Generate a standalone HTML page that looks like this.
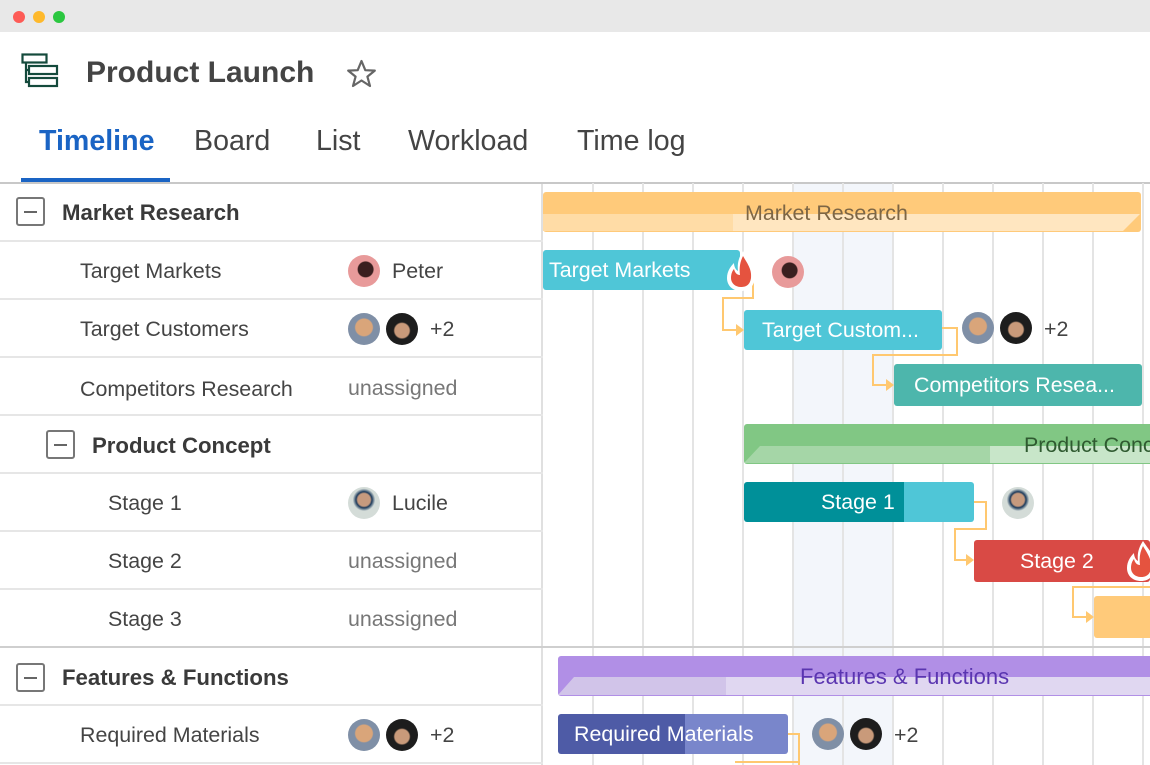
<!DOCTYPE html>
<html><head><meta charset="utf-8"><style>
*{margin:0;padding:0;box-sizing:border-box}
body{width:1150px;height:765px;overflow:hidden;background:#fff;font-family:"Liberation Sans",sans-serif;position:relative}
.a{position:absolute}
.tb{left:0;top:0;width:1150px;height:32px;background:#e8e8e8}
.dot{width:12px;height:12px;border-radius:50%;top:11px}
.tab{top:125px;font-size:28.6px;color:#444}
.row{left:0;width:543px;height:58px;border-bottom:2px solid #e6e6e6}
.txt{font-size:21.4px;color:#444}
.grp{font-size:22.2px;font-weight:bold;color:#3a3a3a}
.box{width:29px;height:29px;border:2px solid #777;border-radius:3px}
.box:after{content:"";position:absolute;left:6px;top:12px;width:13px;height:2px;background:#666}
.un{font-size:21.4px;color:#777}
.av{width:32px;height:32px;border-radius:50%}
.v{top:183px;width:2px;height:582px;background:#e4e4e4}
.bar{color:#fff;font-size:21.4px;border-radius:3px;height:40px;line-height:40px;white-space:nowrap;overflow:hidden}
.ln{background:#ffc870}
</style></head><body>
<div class="a tb"></div>
<div class="a dot" style="left:13px;background:#fd5b56"></div>
<div class="a dot" style="left:33px;background:#feb92c"></div>
<div class="a dot" style="left:53px;background:#2bc740"></div>
<svg class="a" style="left:21px;top:53px" width="38" height="36"><g fill="none" stroke="#144a3c" stroke-width="2.2"><rect x="1.5" y="1.5" width="24" height="8"/><rect x="8" y="13" width="28" height="8"/><rect x="8" y="25" width="28" height="8"/><path d="M5 9.5V29H8M5 17H8"/></g></svg>
<div class="a" style="left:86px;top:56px;font-size:30px;font-weight:bold;color:#444">Product Launch</div>
<svg class="a" style="left:346px;top:59px" width="31" height="29"><path d="M15.5 2L19.3 11.2L28.8 11.6L21.4 17.6L24 27L15.5 21.5L7 27L9.6 17.6L2.2 11.6L11.7 11.2Z" fill="none" stroke="#666" stroke-width="2.2" stroke-linejoin="round"/></svg>
<div class="a tab" style="left:39px;color:#1a64c4;font-weight:bold">Timeline</div>
<div class="a tab" style="left:194px">Board</div>
<div class="a tab" style="left:316px">List</div>
<div class="a tab" style="left:408px">Workload</div>
<div class="a tab" style="left:577px">Time log</div>
<div class="a" style="left:21px;top:178px;width:149px;height:5px;background:#1a64c4"></div>
<div class="a" style="left:0;top:182px;width:1150px;height:2px;background:#c8c8c8"></div>

<div class="a" style="left:793px;top:184px;width:100px;height:581px;background:#f3f6fb"></div>
<div class="a v" style="left:592px"></div><div class="a v" style="left:642px"></div><div class="a v" style="left:692px"></div><div class="a v" style="left:742px"></div><div class="a v" style="left:792px"></div><div class="a v" style="left:842px"></div><div class="a v" style="left:892px"></div><div class="a v" style="left:942px"></div><div class="a v" style="left:992px"></div><div class="a v" style="left:1042px"></div><div class="a v" style="left:1092px"></div><div class="a v" style="left:1142px"></div>
<div class="a" style="left:541px;top:184px;width:2px;height:581px;background:#e0e0e0"></div>

<div class="a row" style="top:184px"></div>
<div class="a row" style="top:242px"></div>
<div class="a row" style="top:300px"></div>
<div class="a row" style="top:358px"></div>
<div class="a row" style="top:416px"></div>
<div class="a row" style="top:474px"></div>
<div class="a row" style="top:532px"></div>
<div class="a" style="left:0;top:646px;width:1150px;height:2px;background:#cfcfcf"></div>
<div class="a row" style="top:648px"></div>
<div class="a row" style="top:706px"></div>

<div class="a box" style="left:16px;top:197px"></div><div class="a grp" style="left:62px;top:200px">Market Research</div>
<div class="a txt" style="left:80px;top:259px">Target Markets</div>
<div class="a av" style="left:348px;top:255px;background:radial-gradient(circle at 55% 45%,#3a1f1f 30%,#e89a9a 34%)"></div><div class="a txt" style="left:392px;top:259px">Peter</div>
<div class="a txt" style="left:80px;top:317px">Target Customers</div>
<div class="a av" style="left:348px;top:313px;background:radial-gradient(circle at 50% 45%,#d9a57a 35%,#7f8fa6 40%)"></div>
<div class="a av" style="left:386px;top:313px;background:radial-gradient(circle at 50% 55%,#c99a7a 30%,#1d1d1d 36%)"></div><div class="a txt" style="left:430px;top:317px">+2</div>
<div class="a txt" style="left:80px;top:377px">Competitors Research</div><div class="a un" style="left:348px;top:376px">unassigned</div>
<div class="a box" style="left:46px;top:430px"></div><div class="a grp" style="left:92px;top:433px">Product Concept</div>
<div class="a txt" style="left:108px;top:491px">Stage 1</div>
<div class="a av" style="left:348px;top:487px;background:radial-gradient(circle at 50% 40%,#c69a7e 25%,#1d3b5c 32%,#d4dcd8 45%)"></div><div class="a txt" style="left:392px;top:491px">Lucile</div>
<div class="a txt" style="left:108px;top:549px">Stage 2</div><div class="a un" style="left:348px;top:549px">unassigned</div>
<div class="a txt" style="left:108px;top:607px">Stage 3</div><div class="a un" style="left:348px;top:607px">unassigned</div>
<div class="a box" style="left:16px;top:663px"></div><div class="a grp" style="left:62px;top:665px">Features &amp; Functions</div>
<div class="a txt" style="left:80px;top:723px">Required Materials</div>
<div class="a av" style="left:348px;top:719px;background:radial-gradient(circle at 50% 45%,#d9a57a 35%,#7f8fa6 40%)"></div>
<div class="a av" style="left:386px;top:719px;background:radial-gradient(circle at 50% 55%,#c99a7a 30%,#1d1d1d 36%)"></div><div class="a txt" style="left:430px;top:723px">+2</div>

<div class="a ln" style="left:752px;top:270px;width:2px;height:28px"></div>
<div class="a ln" style="left:722px;top:297px;width:32px;height:2px"></div>
<div class="a ln" style="left:722px;top:297px;width:2px;height:33px"></div>
<div class="a ln" style="left:722px;top:329px;width:16px;height:2px"></div>
<div class="a" style="left:736px;top:324px;border-left:8px solid #ffc870;border-top:6px solid transparent;border-bottom:6px solid transparent"></div>
<div class="a ln" style="left:942px;top:327px;width:16px;height:2px"></div>
<div class="a ln" style="left:956px;top:327px;width:2px;height:29px"></div>
<div class="a ln" style="left:872px;top:354px;width:86px;height:2px"></div>
<div class="a ln" style="left:872px;top:354px;width:2px;height:31px"></div>
<div class="a ln" style="left:872px;top:384px;width:16px;height:2px"></div>
<div class="a" style="left:886px;top:379px;border-left:8px solid #ffc870;border-top:6px solid transparent;border-bottom:6px solid transparent"></div>
<div class="a ln" style="left:974px;top:501px;width:13px;height:2px"></div>
<div class="a ln" style="left:985px;top:501px;width:2px;height:29px"></div>
<div class="a ln" style="left:954px;top:528px;width:33px;height:2px"></div>
<div class="a ln" style="left:954px;top:528px;width:2px;height:33px"></div>
<div class="a ln" style="left:954px;top:559px;width:14px;height:2px"></div>
<div class="a" style="left:966px;top:554px;border-left:8px solid #ffc870;border-top:6px solid transparent;border-bottom:6px solid transparent"></div>
<div class="a ln" style="left:1072px;top:586px;width:78px;height:2px"></div>
<div class="a ln" style="left:1072px;top:586px;width:2px;height:31px"></div>
<div class="a ln" style="left:1072px;top:616px;width:16px;height:2px"></div>
<div class="a" style="left:1086px;top:611px;border-left:8px solid #ffc870;border-top:6px solid transparent;border-bottom:6px solid transparent"></div>
<div class="a ln" style="left:788px;top:733px;width:12px;height:2px"></div>
<div class="a ln" style="left:798px;top:733px;width:2px;height:32px"></div>
<div class="a ln" style="left:735px;top:761px;width:65px;height:2px"></div>

<div class="a" style="left:543px;top:192px;width:598px;height:40px;background:#ffca7a;border-radius:3px"></div>
<div class="a" style="left:543px;top:214px;width:190px;height:17px;background:#ffdca6"></div>
<div class="a" style="left:733px;top:214px;width:390px;height:17px;background:#ffe6c0"></div>
<div class="a" style="left:1123px;top:214px;border-left:17px solid #ffe6c0;border-top:17px solid transparent;width:0;height:0;transform:scaleY(-1)"></div>
<div class="a" style="left:745px;top:201px;font-size:21.4px;color:#7d6645">Market Research</div>

<div class="a bar" style="left:543px;top:250px;width:197px;background:#4fc6d7;padding-left:6px">Target Markets</div>
<svg class="a" style="left:724px;top:249px" width="34" height="44"><path d="M19 2C24 10 32 17 31 29C30 38 24 42 17 42C9 42 3 37 3 29C3 22 7 17 10 14C10 18 12 21 14 22C13 14 15 8 19 2Z" fill="#fff"/><path d="M19 7C23 14 28 20 27 29C26 36 22 38 17 38C11 38 7 34 7 29C7 24 9 21 10 20C11 24 13 26 16 26C15 19 16 13 19 7Z" fill="#e5533f"/></svg>
<div class="a av" style="left:772px;top:256px;background:radial-gradient(circle at 55% 45%,#3a1f1f 30%,#e89a9a 34%)"></div>

<div class="a bar" style="left:744px;top:310px;width:198px;background:#4fc6d7;padding-left:18px">Target Custom...</div>
<div class="a av" style="left:962px;top:312px;background:radial-gradient(circle at 50% 45%,#d9a57a 35%,#7f8fa6 40%)"></div>
<div class="a av" style="left:1000px;top:312px;background:radial-gradient(circle at 50% 55%,#c99a7a 30%,#1d1d1d 36%)"></div>
<div class="a txt" style="left:1044px;top:317px">+2</div>

<div class="a bar" style="left:894px;top:364px;width:248px;height:42px;line-height:42px;background:#4db6ac;padding-left:20px">Competitors Resea...</div>

<div class="a" style="left:744px;top:424px;width:406px;height:40px;background:#81c784;border-radius:3px 0 0 3px"></div>
<div class="a" style="left:760px;top:446px;width:230px;height:17px;background:#a5d6a7"></div>
<div class="a" style="left:744px;top:446px;border-right:16px solid #a5d6a7;border-top:17px solid transparent;width:0;height:0"></div>
<div class="a" style="left:990px;top:446px;width:160px;height:17px;background:#c8e6c9"></div>
<div class="a" style="left:1024px;top:433px;font-size:21.4px;color:#2f5a30;white-space:nowrap">Product Concept</div>

<div class="a bar" style="left:744px;top:482px;width:230px;background:linear-gradient(90deg,#009099 160px,#4fc6d7 160px)"><span style="position:absolute;left:77px">Stage 1</span></div>
<div class="a av" style="left:1002px;top:487px;background:radial-gradient(circle at 50% 40%,#c69a7e 25%,#1d3b5c 32%,#d4dcd8 45%)"></div>

<div class="a bar" style="left:974px;top:540px;width:176px;height:42px;line-height:42px;background:#d94a45"><span style="position:absolute;left:46px">Stage 2</span></div>
<svg class="a" style="left:1124px;top:539px" width="34" height="44"><path d="M19 2C24 10 32 17 31 29C30 38 24 42 17 42C9 42 3 37 3 29C3 22 7 17 10 14C10 18 12 21 14 22C13 14 15 8 19 2Z" fill="#fff"/><path d="M19 7C23 14 28 20 27 29C26 36 22 38 17 38C11 38 7 34 7 29C7 24 9 21 10 20C11 24 13 26 16 26C15 19 16 13 19 7Z" fill="#e5533f"/></svg>

<div class="a" style="left:1094px;top:596px;width:56px;height:42px;background:#ffca7a;border-radius:3px 0 0 3px"></div>

<div class="a" style="left:558px;top:656px;width:592px;height:40px;background:#b18fe6;border-radius:3px 0 0 3px"></div>
<div class="a" style="left:574px;top:677px;width:152px;height:18px;background:#d1c4e9"></div>
<div class="a" style="left:558px;top:677px;border-right:16px solid #d1c4e9;border-top:18px solid transparent;width:0;height:0"></div>
<div class="a" style="left:726px;top:677px;width:424px;height:18px;background:#e0d7f1"></div>
<div class="a" style="left:800px;top:664px;font-size:22px;color:#5a35b0">Features &amp; Functions</div>

<div class="a bar" style="left:558px;top:714px;width:230px;background:linear-gradient(90deg,#4e5ba6 127px,#7986cb 127px);padding-left:16px">Required Materials</div>
<div class="a av" style="left:812px;top:718px;background:radial-gradient(circle at 50% 45%,#d9a57a 35%,#7f8fa6 40%)"></div>
<div class="a av" style="left:850px;top:718px;background:radial-gradient(circle at 50% 55%,#c99a7a 30%,#1d1d1d 36%)"></div>
<div class="a txt" style="left:894px;top:723px">+2</div>
</body></html>
